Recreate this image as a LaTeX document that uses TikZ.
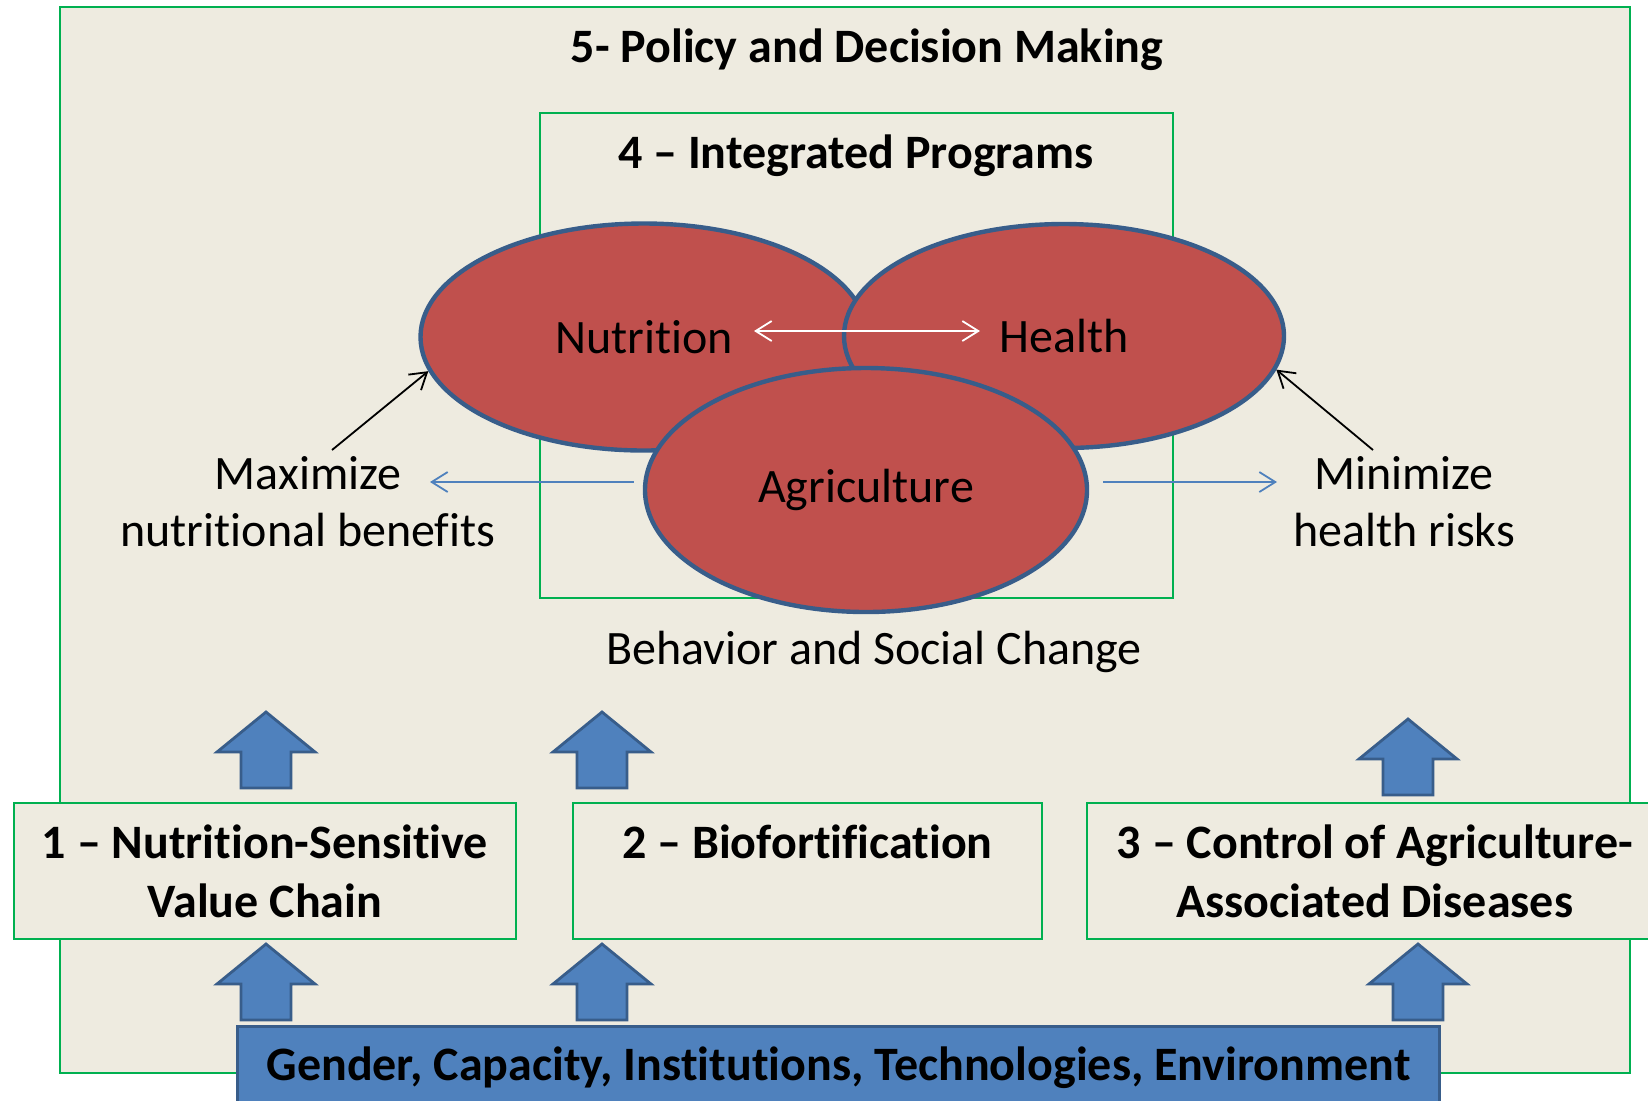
\documentclass[tikz,border=0pt]{standalone}
\usepackage{fontspec}
\setmainfont{Carlito}[Renderer=OpenType,Ligatures={TeX,NoCommon}]
\usepackage{tikz}
\usetikzlibrary{arrows.meta,shapes.geometric}

\definecolor{bgtan}{HTML}{EEEBE0}
\definecolor{framegreen}{HTML}{00B050}
\definecolor{areared}{HTML}{C0504D}
\definecolor{darkblue}{HTML}{385D8A}
\definecolor{midblue}{HTML}{4F81BD}

\tikzset{
  panel/.style={draw=framegreen,line width=0.9pt,fill=bgtan},
  boldtext/.style={font=\fontsize{24}{29.5}\selectfont\bfseries,align=center},
  plaintext/.style={font=\fontsize{24}{28.5}\selectfont,align=center},
  area/.style={ellipse,draw=darkblue,line width=2.2pt,fill=areared,inner sep=0pt,
    font=\fontsize{24}{28.5}\selectfont},
  level/.style={panel,boldtext,anchor=north west,minimum height=68pt,inner sep=0pt},
  link/.style={line width=0.9pt,-{Straight Barb[length=8pt,width=10pt]}},
  twoway/.style={line width=0.9pt,{Straight Barb[length=8pt,width=10pt]}-{Straight Barb[length=8pt,width=10pt]}},
  blockup/.style={fill=midblue,draw=darkblue,line width=1.4pt}
}
\newcommand{\BlockUp}[2]{%
  \draw[blockup] (#1,#2) -- ++(49,40) -- ++(-24,0) -- ++(0,36) -- ++(-50,0)
    -- ++(0,-36) -- ++(-24,0) -- cycle;}

\begin{document}
\begin{tikzpicture}[x=0.5pt,y=-0.5pt]
    \fill[white] (0,0) rectangle (1648,1100);
    \useasboundingbox (0,0) rectangle (1648,1100);
    \draw[panel] (60,7) rectangle (1630,1073);
    \node[boldtext] (policy) at (867,50) {5- Policy and Decision Making};

    \draw[draw=framegreen,line width=0.9pt] (540,113) rectangle (1173,598);
    \node[boldtext] (programs) at (856,156) {4 -- Integrated Programs};

    \node[area,minimum width=223.5pt,minimum height=113.5pt] (nut) at (644,337) {Nutrition};
    \node[area,minimum width=220pt,minimum height=112pt] (hea) at (1064,336) {Health};
    \node[area,minimum width=221pt,minimum height=122pt] (agr) at (866,490) {Agriculture};
    \draw[twoway,white] ([shift={(110,-6)}]nut.center) -- ([shift={(-84,-5)}]hea.center);

    \node[plaintext] (max) at (308,502) {Maximize\\nutritional benefits};
    \node[plaintext] (min) at (1404,502) {Minimize\\health risks};
    \coordinate (maxtail) at (332,450);
    \coordinate (mintail) at (1373,450);
    \coordinate (maxend) at (430,482);
    \coordinate (minend) at (1277,482);
    \draw[link,black] (maxtail) -- (nut.189);
    \draw[link,black] (mintail) -- (hea.351);
    \draw[link,midblue] ([shift={(-9,-8)}]agr.west) -- (maxend);
    \draw[link,midblue] ([shift={(14,-8)}]agr.east) -- (minend);

    \node[plaintext] (bsc) at (874,652) {Behavior and Social Change};

    \BlockUp{266}{712}
    \BlockUp{602}{712}
    \BlockUp{1408}{719}
    \node[level,minimum width=251pt] (vc) at (13,802) {1 -- Nutrition-Sensitive\\Value Chain};
    \node[level,minimum width=234.5pt] (bio) at (572,802) {2 -- Biofortification\\\phantom{Value Chain}};
    \node[level,minimum width=288pt] (dis) at (1086,802) {3 -- Control of Agriculture-\\Associated Diseases};
    \BlockUp{266}{944}
    \BlockUp{602}{944}
    \BlockUp{1418}{944}

    \node[boldtext,fill=midblue,draw=darkblue,line width=1.4pt,anchor=north west,
      minimum width=601pt,minimum height=41pt,inner sep=0pt] (base) at (236,1025)
      {Gender, Capacity, Institutions, Technologies, Environment};
\end{tikzpicture}
\end{document}
